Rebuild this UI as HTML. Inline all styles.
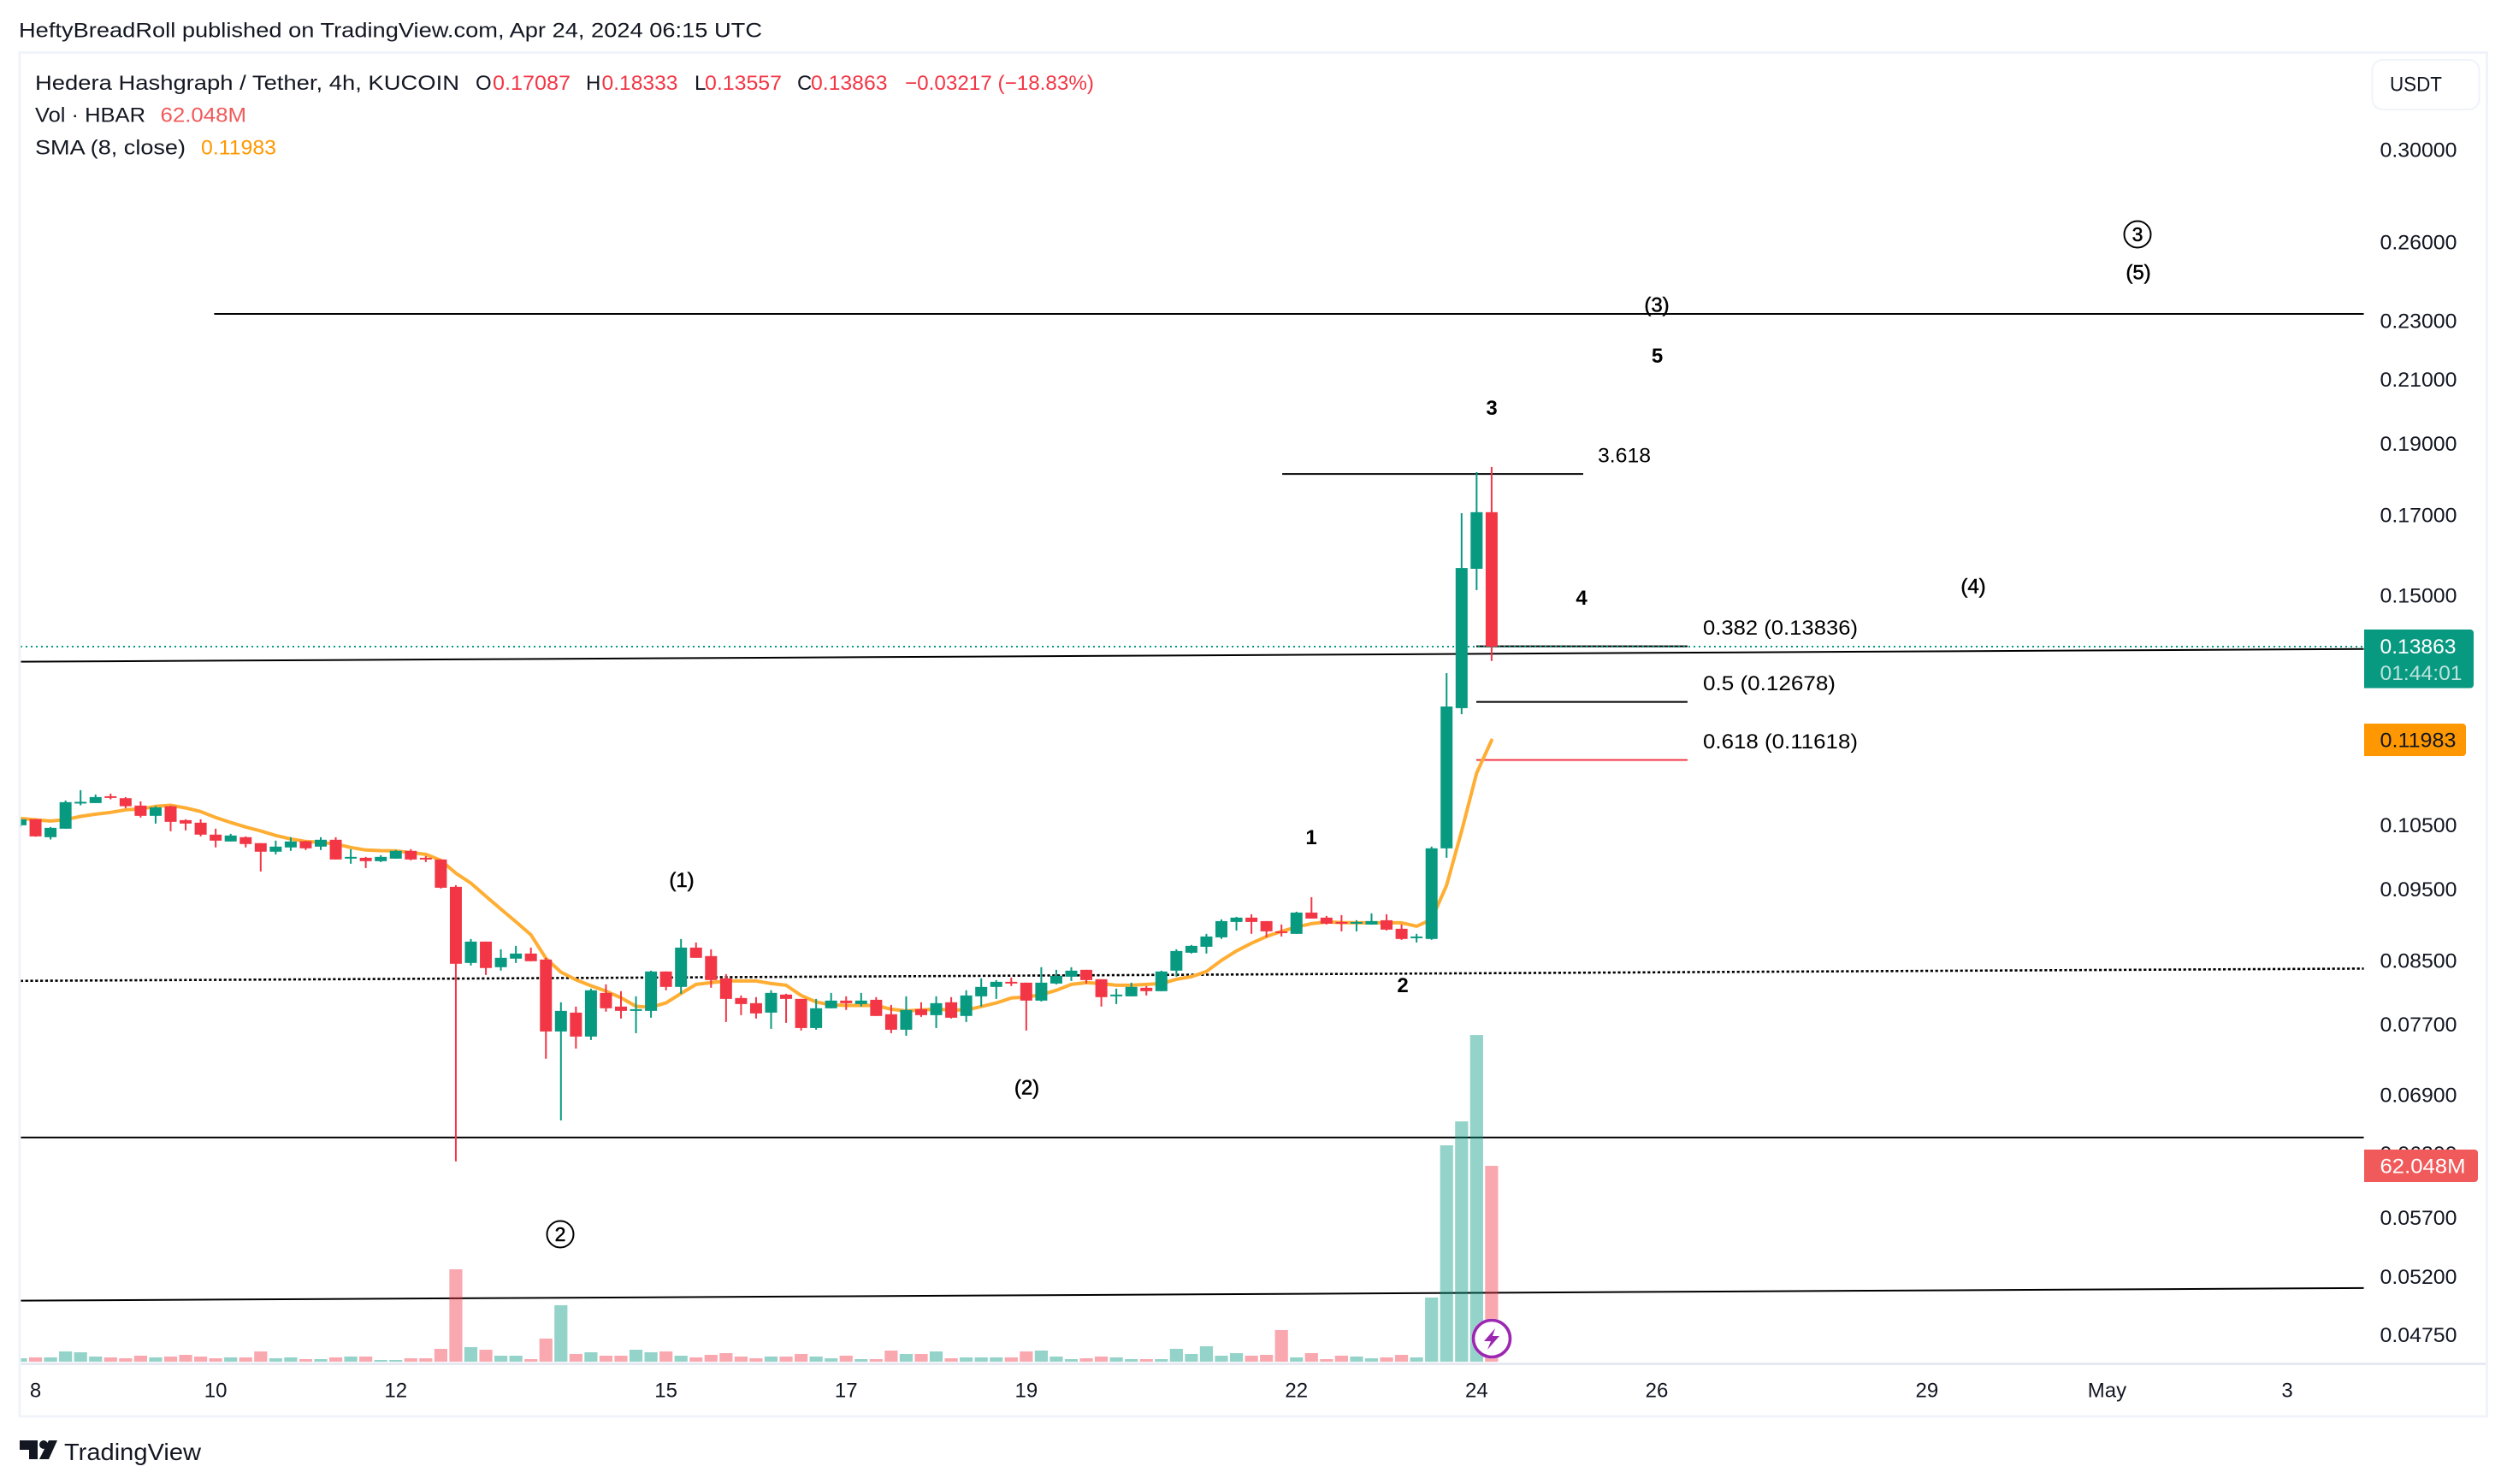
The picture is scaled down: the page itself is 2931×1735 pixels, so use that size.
<!DOCTYPE html>
<html lang="en">
<head>
<meta charset="utf-8">
<title>HBAR/USDT 4h chart</title>
<style>
  html, body { margin: 0; padding: 0; background: #ffffff; }
  svg { display: block; font-family: "Liberation Sans", sans-serif; }
  .t { font-size: 24px; fill: #131722; }
  .red { fill: #f23645; }
  .wave { font-size: 24px; font-weight: 700; fill: #000000; text-anchor: middle; }
  .paren { font-weight: 400; stroke: #000000; stroke-width: 0.5px; }
  .lab { font-size: 24px; fill: #000000; }
</style>
</head>
<body>
<svg id="chart" xmlns="http://www.w3.org/2000/svg" width="2931" height="1735" viewBox="0 0 2931 1735">
  <rect x="0" y="0" width="2931" height="1735" fill="#ffffff"/>
  <text class="t" x="22" y="43.5" textLength="869" lengthAdjust="spacingAndGlyphs">HeftyBreadRoll published on TradingView.com, Apr 24, 2024 06:15 UTC</text>
  <rect x="23" y="61.5" width="2884.5" height="1594.5" fill="#ffffff" stroke="#f0f3fa" stroke-width="3"/>

  <defs>
    <clipPath id="plot-clip"><rect x="24.5" y="63" width="2739.5" height="1530"/></clipPath>
  </defs>
  <g id="drawings" clip-path="url(#plot-clip)"></g>
  <g id="volumes" clip-path="url(#plot-clip)"></g>
  <path id="sma" clip-path="url(#plot-clip)" fill="none" stroke="#ffad33" stroke-width="4" stroke-linejoin="round" stroke-linecap="round"/>
  <g id="candles" clip-path="url(#plot-clip)"></g>

  <g id="wave-labels">
    <text class="wave paren" x="797" y="1037">(1)</text>
    <text class="wave paren" x="1200.5" y="1279.5">(2)</text>
    <text class="wave paren" x="1937" y="364.5">(3)</text>
    <text class="wave paren" x="2307" y="693.5">(4)</text>
    <text class="wave paren" x="2500" y="326.5">(5)</text>
    <text class="wave" x="1533" y="987">1</text>
    <text class="wave" x="1640" y="1160">2</text>
    <text class="wave" x="1744" y="485">3</text>
    <text class="wave" x="1849" y="707">4</text>
    <text class="wave" x="1937.5" y="424">5</text>
    <circle cx="655" cy="1443" r="15.5" fill="#ffffff" stroke="#000000" stroke-width="2"/>
    <text class="wave paren" style="font-size:23px" x="655" y="1451">2</text>
    <circle cx="2499" cy="274" r="15.5" fill="#ffffff" stroke="#000000" stroke-width="2"/>
    <text class="wave paren" style="font-size:23px" x="2499" y="282">3</text>
  </g>

  <g>
    <text class="lab" x="1868" y="540.5" textLength="62" lengthAdjust="spacingAndGlyphs">3.618</text>
    <text class="lab" x="1991" y="742" textLength="181" lengthAdjust="spacingAndGlyphs">0.382 (0.13836)</text>
    <text class="lab" x="1991" y="807" textLength="155" lengthAdjust="spacingAndGlyphs">0.5 (0.12678)</text>
    <text class="lab red" x="1991" y="875" textLength="181" lengthAdjust="spacingAndGlyphs">0.618 (0.11618)</text>
  </g>

  <g>
    <text class="t" x="41" y="105" textLength="496" lengthAdjust="spacingAndGlyphs">Hedera Hashgraph / Tether, 4h, KUCOIN</text>
    <text class="t" x="556" y="105">O</text>
    <text class="t red" x="576" y="105" textLength="91" lengthAdjust="spacingAndGlyphs">0.17087</text>
    <text class="t" x="685" y="105">H</text>
    <text class="t red" x="703.5" y="105" textLength="89" lengthAdjust="spacingAndGlyphs">0.18333</text>
    <text class="t" x="812" y="105">L</text>
    <text class="t red" x="824" y="105" textLength="90" lengthAdjust="spacingAndGlyphs">0.13557</text>
    <text class="t" x="932" y="105">C</text>
    <text class="t red" x="948" y="105" textLength="89.5" lengthAdjust="spacingAndGlyphs">0.13863</text>
    <text class="t red" x="1058" y="105" textLength="221" lengthAdjust="spacingAndGlyphs">−0.03217 (−18.83%)</text>
    <text class="t" x="41" y="142.5" textLength="129" lengthAdjust="spacingAndGlyphs">Vol · HBAR</text>
    <text class="t" style="fill:#f05a5a" x="187.5" y="142.5" textLength="100.5" lengthAdjust="spacingAndGlyphs">62.048M</text>
    <text class="t" x="41" y="180.5" textLength="176" lengthAdjust="spacingAndGlyphs">SMA (8, close)</text>
    <text class="t" style="fill:#ff9800" x="235" y="180.5" textLength="88" lengthAdjust="spacingAndGlyphs">0.11983</text>
  </g>

  <g id="y-axis"></g>
  <g id="x-axis"></g>
  <rect x="24.5" y="1593" width="2881.5" height="3" fill="#e6e9f2"/>

  <g>
    <rect x="2773.5" y="70" width="125" height="58" rx="12" fill="#ffffff" stroke="#f0f3fa" stroke-width="2"/>
    <text class="t" x="2794" y="106.5" textLength="61" lengthAdjust="spacingAndGlyphs">USDT</text>
  </g>

  <g>
    <path d="M2764 736H2888a4 4 0 0 1 4 4V800.5a4 4 0 0 1-4 4H2764Z" fill="#089981"/>
    <text class="t" style="fill:#ffffff" x="2782.5" y="764" textLength="89" lengthAdjust="spacingAndGlyphs">0.13863</text>
    <text class="t" style="fill:#ffffff;fill-opacity:.72" x="2782.5" y="795" textLength="96" lengthAdjust="spacingAndGlyphs">01:44:01</text>
  </g>
  <g>
    <path d="M2764 846H2879a4 4 0 0 1 4 4V880a4 4 0 0 1-4 4H2764Z" fill="#ff9800"/>
    <text class="t" style="fill:#131722" x="2782.5" y="873.5" textLength="89" lengthAdjust="spacingAndGlyphs">0.11983</text>
  </g>
  <g>
    <path d="M2764 1344H2893a4 4 0 0 1 4 4V1378a4 4 0 0 1-4 4H2764Z" fill="#f05a5a"/>
    <text class="t" style="fill:#ffffff" x="2782.5" y="1371.5" textLength="100" lengthAdjust="spacingAndGlyphs">62.048M</text>
  </g>

  <g>
    <circle cx="1744" cy="1565" r="23.5" fill="#ffffff"/>
    <circle cx="1744" cy="1565" r="21.5" fill="#ffffff" stroke="#9c27b0" stroke-width="3.6"/>
    <polygon points="1748,1553 1735,1568 1743,1568 1739,1578 1753,1562 1745,1562" fill="#9c27b0"/>
  </g>

  <g>
    <polygon points="23,1684 44,1684 44,1706 34,1706 34,1695 23,1695" fill="#131722"/>
    <circle cx="51" cy="1689" r="5" fill="#131722"/>
    <polygon points="57,1684 67,1684 57,1706 46,1706" fill="#131722"/>
    <text x="75" y="1707" style="font-size:28px;fill:#131722" textLength="160" lengthAdjust="spacingAndGlyphs">TradingView</text>
  </g>
</svg>

<script>
const opens = [
  .10500,.10600,.10307,.10444,.10869,.10869,.10985,.10951,.10826,.10655,
  .10816,.10584,.10542,.10348,.10239,.10307,.10212,.10077,.10144,.10243,
  .10157,.10266,.09977,.09982,.09930,.09969,.10090,.09982,.09956,.09541,
  .08476,.08762,.08420,.08533,.08601,.08521,.07619,.07846,.07559,.08090,
  .07920,.07867,.07867,.08364,.08166,.08681,.08567,.08275,.08026,.07962,
  .07846,.08069,.08015,.07660,.07899,.07994,.07951,.08004,.07826,.07640,
  .07888,.07815,.07973,.07805,.08047,.08166,.08231,.08220,.07994,.08209,
  .08297,.08386,.08264,.08053,.08047,.08155,.08112,.08375,.08612,.08692,
  .08820,.09034,.09095,.09046,.08903,.08868,.09167,.09095,.09034,.09016,
  .08998,.09058,.08939,.08810,.08798,.10130,.12598,.15647,.17087
];
const highs = [
  .10613,.10605,.10472,.10912,.11089,.11015,.11030,.10971,.10898,.10816,
  .10826,.10598,.10598,.10444,.10361,.10320,.10212,.10252,.10307,.10250,
  .10307,.10307,.10117,.09996,.10022,.10103,.10117,.10009,.09956,.09566,
  .08798,.08762,.08658,.08704,.08681,.08544,.07973,.07920,.08144,.08198,
  .08112,.08047,.08375,.08364,.08798,.08750,.08658,.08330,.08058,.08037,
  .08123,.08079,.08015,.08015,.08090,.08047,.08090,.08037,.07941,.08047,
  .07973,.08047,.08037,.08123,.08275,.08253,.08286,.08220,.08420,.08386,
  .08420,.08386,.08264,.08144,.08220,.08177,.08375,.08658,.08716,.08868,
  .09070,.09107,.09143,.09046,.08998,.09179,.09389,.09119,.09131,.09058,
  .09155,.09143,.08998,.08868,.10157,.13303,.17060,.18186,.18333
];
const lows = [
  .10472,.10315,.10270,.10444,.10831,.10869,.10932,.10783,.10627,.10528,
  .10403,.10416,.10320,.10144,.10239,.10144,.09772,.10035,.10090,.10103,
  .10103,.09956,.09890,.09824,.09916,.09969,.09943,.09916,.09516,.06225,
  .08442,.08319,.08375,.08476,.08499,.07303,.06635,.07420,.07519,.07857,
  .07774,.07599,.07784,.08123,.08079,.08544,.08155,.07732,.07815,.07774,
  .07650,.07722,.07630,.07640,.07899,.07878,.07920,.07805,.07599,.07569,
  .07794,.07660,.07774,.07732,.07920,.08015,.08177,.07630,.07983,.08198,
  .08242,.08209,.07920,.07951,.08047,.08058,.08112,.08297,.08601,.08601,
  .08798,.08915,.08868,.08820,.08832,.08868,.09082,.08998,.08903,.08903,
  .08998,.08915,.08786,.08750,.08786,.09982,.12480,.15136,.13557
];
const closes = [
  .10598,.10320,.10458,.10884,.10890,.10971,.10956,.10816,.10655,.10797,
  .10556,.10528,.10348,.10252,.10334,.10198,.10077,.10157,.10239,.10130,
  .10266,.09956,.09996,.09930,.09996,.10090,.09956,.09960,.09528,.08465,
  .08762,.08409,.08544,.08601,.08499,.07619,.07867,.07559,.08123,.07899,
  .07867,.07888,.08364,.08166,.08681,.08544,.08253,.08015,.07951,.07836,
  .08090,.08015,.07660,.07899,.07994,.07962,.07994,.07805,.07640,.07878,
  .07815,.07962,.07784,.08058,.08166,.08231,.08220,.07994,.08220,.08308,
  .08375,.08253,.08037,.08069,.08166,.08112,.08364,.08635,.08704,.08832,
  .09046,.09095,.09034,.08903,.08879,.09167,.09082,.09010,.09016,.09034,
  .09046,.08927,.08798,.08832,.10130,.12630,.15666,.17087,.13863
];
const smaValues = [
  .10613,.10589,.10570,.10594,.10645,.10683,.10712,.10755,.10769,.10812,
  .10831,.10787,.10726,.10627,.10546,.10472,.10407,.10334,.10279,.10239,
  .10225,.10198,.10144,.10103,.10094,.10090,.10063,.10035,.09943,.09746,
  .09596,.09402,.09216,.09038,.08856,.08536,.08356,.08257,.08180,.08112,
  .08029,.07923,.07912,.07965,.08083,.08198,.08220,.08242,.08242,.08242,
  .08209,.08187,.08058,.07976,.07941,.07934,.07934,.07934,.07888,.07867,
  .07878,.07888,.07878,.07878,.07920,.07965,.08026,.08037,.08069,.08123,
  .08198,.08220,.08209,.08187,.08187,.08198,.08209,.08264,.08297,.08364,
  .08510,.08635,.08739,.08832,.08903,.08963,.09010,.09034,.09026,.09022,
  .09022,.09022,.09022,.08974,.09070,.09566,.10403,.11388,.11983
];
const volumesM = [
  1.08,1.36,1.36,3.25,2.98,1.63,1.36,1.08,1.90,1.36,
  1.63,2.17,1.63,1.08,1.36,1.36,3.25,1.08,1.36,.81,
  .81,1.36,1.63,1.63,.54,.54,1.08,1.08,4.07,29.27,
  4.61,3.79,1.90,1.90,.81,7.32,17.89,2.44,2.98,1.90,
  1.90,3.79,2.98,3.25,1.90,1.36,2.17,2.71,1.63,1.08,
  1.63,1.63,2.44,1.63,1.08,1.90,.81,.81,3.52,2.44,
  2.44,3.25,1.08,1.36,1.36,1.36,1.36,3.25,3.52,1.63,
  .81,1.08,1.63,1.36,.81,.81,.81,4.07,2.44,4.88,
  1.90,2.71,1.90,2.17,10.03,1.36,2.71,.81,1.90,1.63,
  1.08,1.36,2.17,1.36,20.33,68.55,76.14,103.50,62.048
];
const priceTicks = [0.30,0.26,0.23,0.21,0.19,0.17,0.15,0.105,0.095,0.085,0.077,0.069,0.063,0.057,0.052,0.0475];
const priceTickLabels = ["0.30000","0.26000","0.23000","0.21000","0.19000","0.17000","0.15000","0.10500","0.09500","0.08500","0.07700","0.06900","0.06300","0.05700","0.05200","0.04750"];
const timeTickBars = [1,13,25,43,55,67,85,97,109,127,139,151];
const timeTickLabels = ["8","10","12","15","17","19","22","24","26","29","May","3"];
const trendStartBars = [12.9,84.05,-1,-1,-1,-1];
const trendEndBars = [156.1,104.1,156.1,156.1,156.1,156.1];
const trendStartPrices = [.23258,.18134,.13539,.08242,.06461,.05012];
const trendEndPrices = [.23258,.18134,.13812,.08402,.06461,.05112];
const trendNames = ["resistance-line-top","fib-extension-3618-line","trend-line-upper","dotted-trend-line","support-line","trend-line-lower"];
const fibLevels = [.13869,.12720,.11623];
const fibNames = ["fib-line-0382","fib-line-05","fib-line-0618"];
const lastPrice = 0.13863;

const NS = 'http://www.w3.org/2000/svg';
const UP = '#089981', DOWN = '#f23645';
function xOf(i) { return 24 + 17.55 * i; }
function yOf(p) { return 175.7 + 751.7 * Math.log(0.30 / p); }
function volTop(v) { return 1592 - v * 3.69; }
function make(tag, attrs, parent) {
  const el = document.createElementNS(NS, tag);
  for (const k in attrs) el.setAttribute(k, attrs[k]);
  parent.appendChild(el);
  return el;
}

/* drawings */
const gD = document.getElementById('drawings');
trendNames.forEach(function (name, k) {
  const line = make('line', { x1: xOf(trendStartBars[k]), x2: xOf(trendEndBars[k]), y1: yOf(trendStartPrices[k]), y2: yOf(trendEndPrices[k]), stroke: '#000000', 'stroke-width': name === 'dotted-trend-line' ? 2.6 : 2 }, gD);
  
  
  if (name === 'dotted-trend-line') line.setAttribute('stroke-dasharray', '3.2 2.6');
});
fibLevels.forEach(function (lvl, k) {
  const line = make('line', { x1: xOf(96.98), x2: xOf(111.05), y1: yOf(lvl), y2: yOf(lvl), stroke: k === 2 ? DOWN : '#000000', 'stroke-width': 2 }, gD);
  
  
});
const lastLine = make('line', { x1: 24, x2: 2764, y1: yOf(lastPrice), y2: yOf(lastPrice), stroke: UP, 'stroke-width': 2, 'stroke-dasharray': '2 4' }, gD);



/* volume */
const gV = document.getElementById('volumes');
volumesM.forEach(function (v, i) {
  const up = closes[i] >= opens[i];
  const top = volTop(v);
  const bar = make('rect', { x: xOf(i) - 7.6, y: top, width: 15.2, height: 1592 - top, fill: up ? 'rgba(8,153,129,0.43)' : 'rgba(242,54,69,0.43)' }, gV);
  
  
});

/* SMA */
document.getElementById('sma').setAttribute('d', smaValues.map(function (v, i) {
  return (i ? 'L' : 'M') + xOf(i).toFixed(1) + ' ' + yOf(v).toFixed(1);
}).join(''));

/* candles */
const gC = document.getElementById('candles');
opens.forEach(function (o, i) {
  const c = closes[i];
  const color = c >= o ? UP : DOWN;
  const x = xOf(i);
  const wick = make('rect', { x: x - 1, y: yOf(highs[i]), width: 2, height: yOf(lows[i]) - yOf(highs[i]), fill: color }, gC);
  
  
  const top = yOf(Math.max(o, c));
  const h = Math.max(2, yOf(Math.min(o, c)) - top);
  const body = make('rect', { x: x - 7, y: top, width: 14, height: h, fill: color }, gC);
  
  
});

/* price axis */
const gY = document.getElementById('y-axis');
priceTicks.forEach(function (p, k) {
  const t = make('text', { x: 2782.5, y: yOf(p) + 8, class: 't', textLength: 90, lengthAdjust: 'spacingAndGlyphs' }, gY);
  t.textContent = priceTickLabels[k];
  
  
});

/* time axis */
const gX = document.getElementById('x-axis');
timeTickBars.forEach(function (b, k) {
  const t = make('text', { x: xOf(b), y: 1633.5, class: 't', 'text-anchor': 'middle' }, gX);
  t.textContent = timeTickLabels[k];
  
  
});
</script>
</body>
</html>
